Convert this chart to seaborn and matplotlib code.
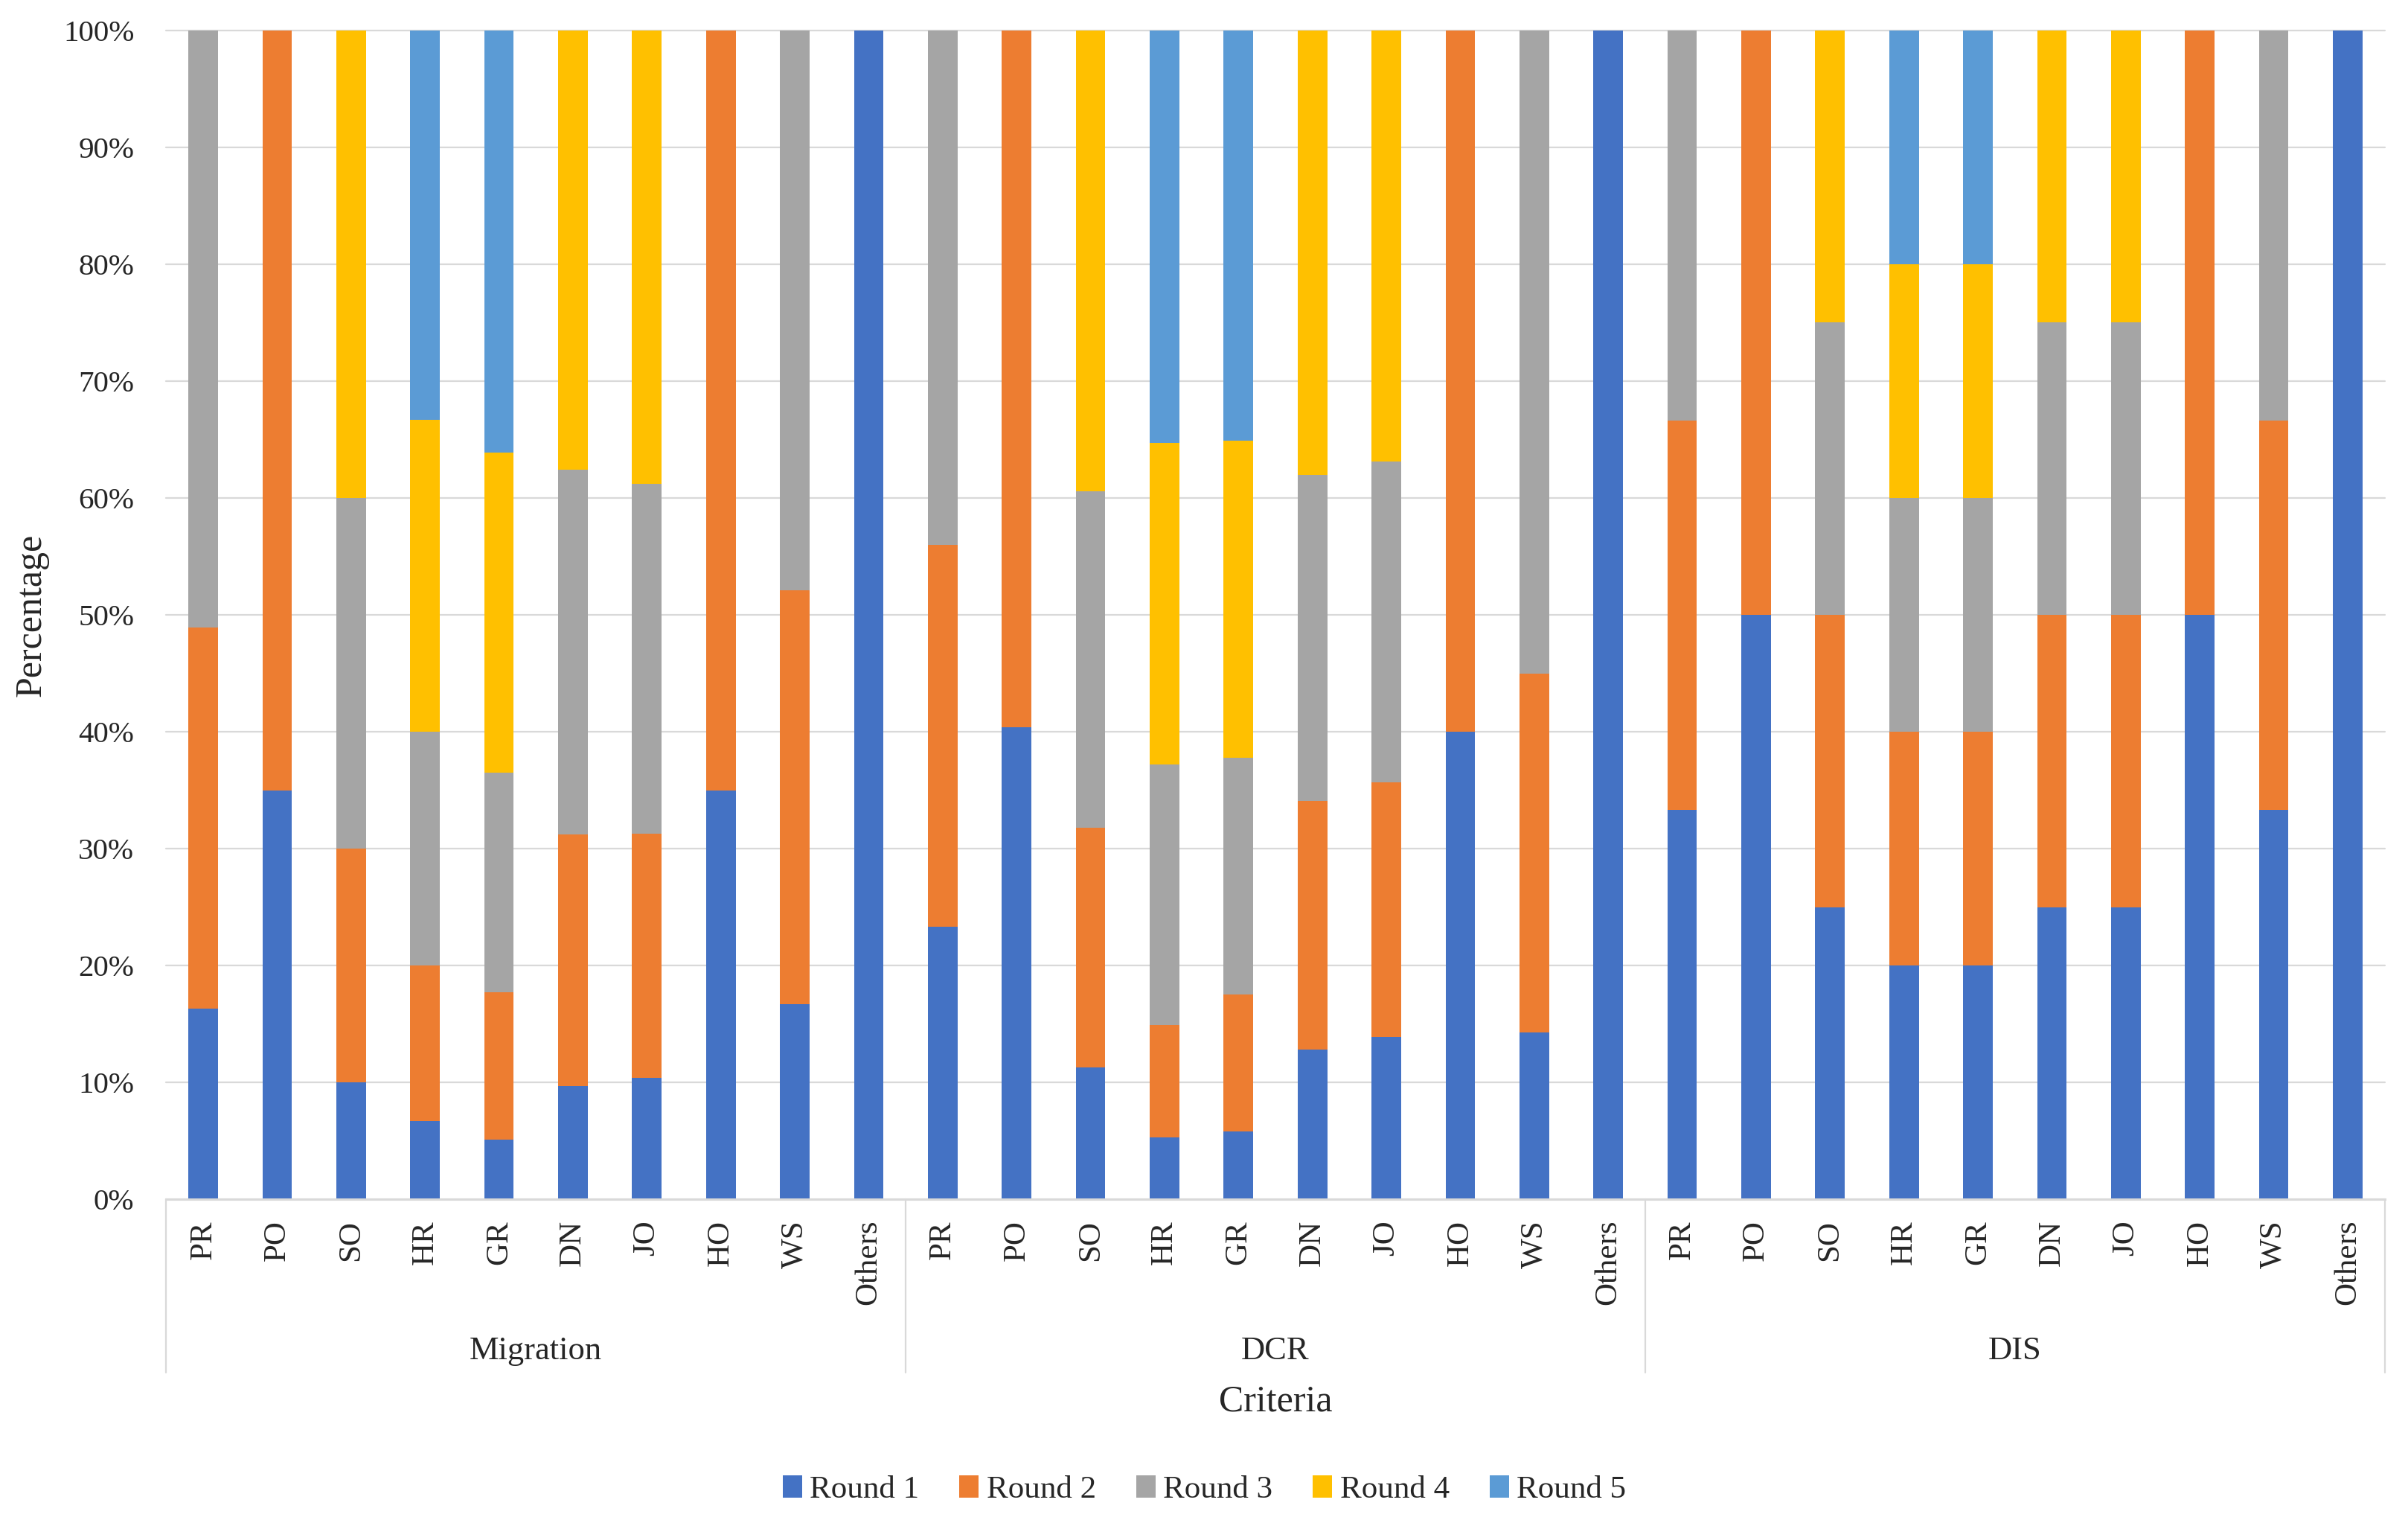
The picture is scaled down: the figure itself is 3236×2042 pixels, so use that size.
import matplotlib
matplotlib.use("Agg")
import matplotlib.pyplot as plt
import matplotlib.transforms as mtransforms
from matplotlib.patches import Patch
import numpy as np
import seaborn as sns

criteria = ["PR", "PO", "SO", "HR", "GR", "DN", "JO", "HO", "WS", "Others"]
groups = ["Migration", "DCR", "DIS"]
rounds = ["Round 1", "Round 2", "Round 3", "Round 4", "Round 5"]
colors = ["#4472C4", "#ED7D31", "#A5A5A5", "#FFC000", "#5B9BD5"]

# percentages, Migration | DCR | DIS, criteria order as above
round1 = [16.3, 35.0, 10.0, 6.7, 5.1, 9.7, 10.4, 35.0, 16.7, 100,
          23.3, 40.4, 11.3, 5.3, 5.8, 12.8, 13.9, 40.0, 14.3, 100,
          33.3, 50.0, 25.0, 20.0, 20.0, 25.0, 25.0, 50.0, 33.3, 100]
round2 = [32.6, 65.0, 20.0, 13.3, 12.6, 21.5, 20.9, 65.0, 35.4, 0,
          32.7, 59.6, 20.5, 9.6, 11.7, 21.3, 21.8, 60.0, 30.7, 0,
          33.3, 50.0, 25.0, 20.0, 20.0, 25.0, 25.0, 50.0, 33.3, 0]
round3 = [51.1, 0, 30.0, 20.0, 18.8, 31.2, 29.9, 0, 47.9, 0,
          44.0, 0, 28.8, 22.3, 20.3, 27.9, 27.4, 0, 55.0, 0,
          33.4, 0, 25.0, 20.0, 20.0, 25.0, 25.0, 0, 33.4, 0]
round4 = [0, 0, 40.0, 26.7, 27.4, 37.6, 38.8, 0, 0, 0,
          0, 0, 39.4, 27.5, 27.1, 38.0, 36.9, 0, 0, 0,
          0, 0, 25.0, 20.0, 20.0, 25.0, 25.0, 0, 0, 0]
round5 = [0, 0, 0, 33.3, 36.1, 0, 0, 0, 0, 0,
          0, 0, 0, 35.3, 35.1, 0, 0, 0, 0, 0,
          0, 0, 0, 20.0, 20.0, 0, 0, 0, 0, 0]

sns.set_style("white")
plt.rcParams["font.family"] = ["Liberation Serif", "DejaVu Serif"]
plt.rcParams["font.size"] = 31

fig = plt.figure(figsize=(32.37, 20.42), dpi=100)
fig.subplots_adjust(left=0.069, right=0.990, bottom=0.211, top=0.980)
ax = fig.add_subplot(111)

pos = list(range(len(round1)))
stack = np.cumsum(np.array([round1, round2, round3, round4, round5]), axis=0)

# draw tallest cumulative bar first so lower rounds sit on top of it
for i in reversed(range(5)):
    sns.barplot(x=pos, y=stack[i], color=colors[i], width=0.4, saturation=1,
                errorbar=None, linewidth=0, ax=ax)

ax.set_xlim(-0.5, 29.5)
ax.set_ylim(0, 100)
ax.set_yticks(range(0, 101, 10))
ax.set_yticklabels([f"{v}%" for v in range(0, 101, 10)])
ax.set_xticks(pos)
ax.set_xticklabels(criteria * 3, rotation=90)
ax.tick_params(axis="y", length=0, pad=31, labelsize=29.5)
ax.tick_params(axis="x", length=0, pad=20, labelsize=31)

ax.set_axisbelow(True)
ax.yaxis.grid(True, color="#D9D9D9", linewidth=1.6)
for gl in ax.get_ygridlines():
    gl.set_clip_on(False)
for s in ["top", "right", "left"]:
    ax.spines[s].set_visible(False)
ax.spines["bottom"].set_color("#D9D9D9")
ax.spines["bottom"].set_linewidth(2.2)

ax.set_ylabel("Percentage", fontsize=36)
ax.yaxis.set_label_coords(-0.053, 0.5)
ax.set_xlabel("")

trans = mtransforms.blended_transform_factory(ax.transData, ax.transAxes)
for x in [-0.5, 9.5, 19.5, 29.5]:
    ax.plot([x, x], [0, -0.148], transform=trans, clip_on=False,
            color="#D9D9D9", linewidth=1.6)
for k, g in enumerate(groups):
    ax.text(4.5 + 10 * k, -0.130, g, transform=trans, ha="center", va="center",
            fontsize=32)
ax.text(14.5, -0.173, "Criteria", transform=trans, ha="center", va="center",
        fontsize=36)

handles = [Patch(facecolor=c, edgecolor="none", label=r) for c, r in zip(colors, rounds)]
fig.legend(handles=handles, loc="center", bbox_to_anchor=(0.5, 0.02), ncol=5,
           frameon=False, fontsize=31, handlelength=0.6, handleheight=0.7,
           handletextpad=0.25, columnspacing=1.25)

fig.savefig("out.png", dpi=100)
